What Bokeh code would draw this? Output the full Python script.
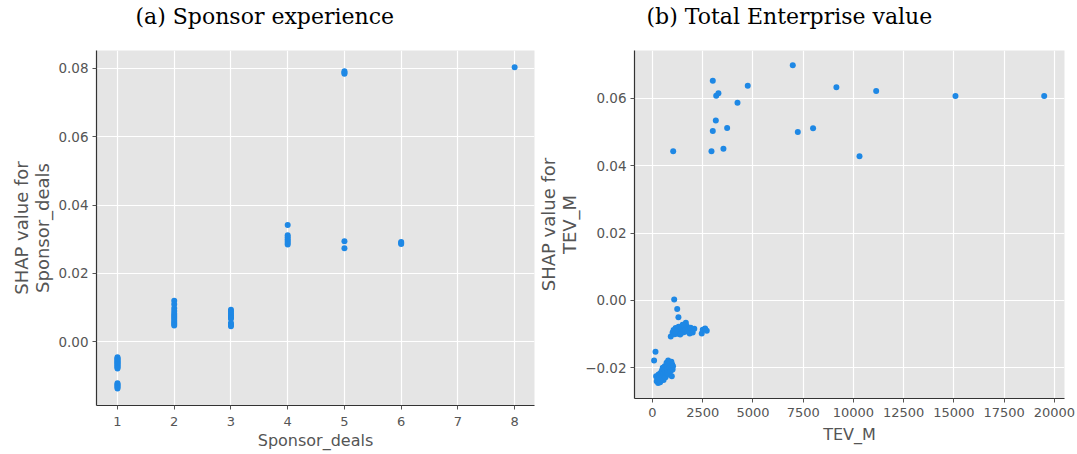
from bokeh.plotting import figure
from bokeh.layouts import row
from bokeh.models import FixedTicker, CustomJSTickFormatter, Range1d, Title
from bokeh.embed import file_html
from bokeh.resources import INLINE

# ---------------- data: (a) Sponsor experience ----------------
deals_x = ([1] * 20) + ([2] * 12) + ([3] * 9) + ([4] * 7) + ([5] * 5) + ([6] * 3) + [8]
deals_shap = [
    -0.0045, -0.0048, -0.0050, -0.0052, -0.0055, -0.0057, -0.0060, -0.0062, -0.0065, -0.0067,
    -0.0070, -0.0072, -0.0075, -0.0078, -0.0121, -0.0124, -0.0127, -0.0130, -0.0133, -0.0136,
    0.0120, 0.0110, 0.0098, 0.0090, 0.0083, 0.0078, 0.0073, 0.0068, 0.0062, 0.0057, 0.0052, 0.0048,
    0.0094, 0.0088, 0.0082, 0.0077, 0.0072, 0.0068, 0.0055, 0.0050, 0.0046,
    0.0342, 0.0312, 0.0306, 0.0300, 0.0295, 0.0290, 0.0285,
    0.0791, 0.0787, 0.0784, 0.0294, 0.0274,
    0.0292, 0.0289, 0.0286,
    0.0803,
]
deals_xticks = [1, 2, 3, 4, 5, 6, 7, 8]
deals_yticks = [0.00, 0.02, 0.04, 0.06, 0.08]

# ---------------- data: (b) Total Enterprise value ----------------
tev_x = [
    1030, 3000, 3170, 3280, 4740, 4230, 3150, 3000, 3715, 2935, 3530,
    6980, 9150, 7230, 7990, 11130, 10300, 15075, 19490,
    1080, 1230, 1290, 1660, 910, 1000, 1050, 1100, 1150, 1200, 1230, 1270, 1300, 1340,
    1380, 1420, 1450, 1480, 1520, 1560, 1600, 1640, 1700, 1750, 1800, 1850, 1900, 2000,
    2080, 1150, 1380, 1500, 2450, 2500, 2620, 2700,
    80, 150, 180, 210, 250, 280, 300, 330, 360, 380, 400, 420, 450, 470, 490, 510, 530,
    550, 570, 590, 610, 630, 650, 670, 700, 720, 740, 760, 780, 800, 820, 850, 870, 900,
    920, 940, 960, 980, 1000, 1020,
]
tev_shap = [
    0.0443, 0.0652, 0.0608, 0.0615, 0.0637, 0.0587, 0.0534, 0.0503, 0.0512, 0.0443, 0.0450,
    0.0698, 0.0633, 0.0500, 0.0511, 0.0622, 0.0428, 0.0607, 0.0607,
    0.0003, -0.0025, -0.0050, -0.0066, -0.0107, -0.0095, -0.0088, -0.0100, -0.0082, -0.0093,
    -0.0085, -0.0099, -0.0078, -0.0090, -0.0084, -0.0097, -0.0080, -0.0090, -0.0086, -0.0094,
    -0.0079, -0.0088, -0.0076, -0.0092, -0.0085, -0.0098, -0.0081, -0.0095, -0.0084, -0.0092,
    -0.0101, -0.0072, -0.0098, -0.0087, -0.0083, -0.0090,
    -0.0178, -0.0152, -0.0225, -0.0240, -0.0232, -0.0245, -0.0220, -0.0238, -0.0228, -0.0243,
    -0.0215, -0.0235, -0.0222, -0.0208, -0.0230, -0.0200, -0.0218, -0.0236, -0.0205, -0.0225,
    -0.0195, -0.0212, -0.0228, -0.0200, -0.0185, -0.0215, -0.0195, -0.0205, -0.0178, -0.0220,
    -0.0190, -0.0200, -0.0185, -0.0210, -0.0195, -0.0182, -0.0225, -0.0190, -0.0205, -0.0195,
]
tev_xticks = [0, 2500, 5000, 7500, 10000, 12500, 15000, 17500, 20000]
tev_yticks = [-0.02, 0.00, 0.02, 0.04, 0.06]

titles = ["(a) Sponsor experience", "(b) Total Enterprise value"]

DOT = "#1E88E5"
LABEL_COLOR = "#555555"


def style(p, title, title_offset):
    p.background_fill_color = "#E5E5E5"
    p.border_fill_color = "white"
    p.outline_line_color = None
    p.grid.grid_line_color = "white"
    p.grid.grid_line_width = 1.2
    for ax in p.axis:
        ax.axis_line_color = "#333333"
        ax.axis_line_width = 1.2
        ax.major_tick_line_color = "#555555"
        ax.major_tick_out = 4
        ax.major_tick_in = 0
        ax.minor_tick_line_color = None
        ax.major_label_text_font = "DejaVu Sans"
        ax.major_label_text_color = LABEL_COLOR
        ax.axis_label_text_font = "DejaVu Sans"
        ax.axis_label_text_font_style = "normal"
        ax.axis_label_text_color = LABEL_COLOR
    p.xaxis.major_label_text_font_size = "13px"
    p.yaxis.major_label_text_font_size = "13.5px"
    p.xaxis.axis_label_text_font_size = "16px"
    p.xaxis.axis_label_text_line_height = 1.0
    p.yaxis.major_label_standoff = 4
    p.yaxis.axis_label_standoff = 2
    p.yaxis.axis_label_text_font_size = "18px"
    p.yaxis.axis_label_text_line_height = 1.0
    # spacer (nearest the frame) then the real title above it
    p.add_layout(Title(text="\u00a0", text_font_size="12px", standoff=4), "above")
    p.add_layout(Title(text=title, text_font="DejaVu Serif", text_font_size="22px",
                       text_font_style="normal", text_color="black", align="left",
                       offset=title_offset, standoff=2, vertical_align="middle"), "above")


fmt_a = CustomJSTickFormatter(code="""
    const s = Math.abs(tick).toFixed(2);
    return (tick < -1e-12 ? '\\u2212' : '') + s;
""")
fmt_b = CustomJSTickFormatter(code="""
    const s = Math.abs(tick).toFixed(2);
    return (tick < -1e-12 ? '\\u2212' : '') + s;
""")

# ---- left figure ----
p1 = figure(frame_width=438, frame_height=355, output_backend="svg", toolbar_location=None,
            x_range=Range1d(0.63, 8.35), y_range=Range1d(-0.0186, 0.0852),
            min_border_left=96, min_border_right=1, min_border_top=50, min_border_bottom=48)
p1.scatter(deals_x, deals_shap, size=6, fill_color=DOT, line_color=None)
style(p1, titles[0], 39)
p1.xaxis.major_label_standoff = 7
p1.xaxis.axis_label_standoff = 2
p1.xaxis.ticker = FixedTicker(ticks=deals_xticks)
p1.yaxis.ticker = FixedTicker(ticks=deals_yticks)
p1.yaxis.formatter = fmt_a
p1.xaxis.axis_label = "Sponsor_deals"
p1.yaxis.axis_label = "SHAP value for\nSponsor_deals"

# ---- right figure ----
p2 = figure(frame_width=430, frame_height=348, output_backend="svg", toolbar_location=None,
            x_range=Range1d(-895, 20500), y_range=Range1d(-0.0291, 0.0742),
            min_border_left=94, min_border_right=13, min_border_top=50, min_border_bottom=54)
p2.scatter(tev_x, tev_shap, size=6, fill_color=DOT, line_color=None)
style(p2, titles[1], 12)
p2.xaxis.major_label_standoff = 5
p2.xaxis.axis_label_standoff = 5
p2.xaxis.ticker = FixedTicker(ticks=tev_xticks)
p2.yaxis.ticker = FixedTicker(ticks=tev_yticks)
p2.yaxis.formatter = fmt_b
p2.xaxis.formatter = CustomJSTickFormatter(code="return tick.toFixed(0);")
p2.xaxis.axis_label = "TEV_M"
p2.yaxis.axis_label = "SHAP value for\nTEV_M"

layout = row(p1, p2)
open("out.html", "w").write(file_html(layout, INLINE))
